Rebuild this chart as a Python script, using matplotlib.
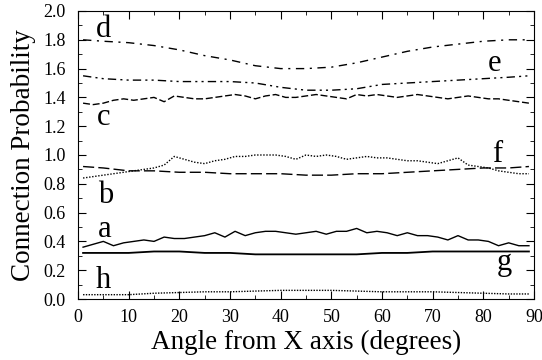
import matplotlib
matplotlib.use("Agg")
import matplotlib.pyplot as plt
from matplotlib.ticker import MultipleLocator

plt.rcParams['font.family'] = ['Liberation Serif', 'DejaVu Serif']

# angle grids (degrees)
x_fine = list(range(1, 90, 2))
x_coarse = [1, 5, 10, 15, 20, 25, 30, 35, 40, 45, 50, 55, 60, 65, 70, 75, 80, 85, 89]

# curves
d_vals = [1.80, 1.79, 1.78, 1.76, 1.73, 1.69, 1.66, 1.62, 1.60, 1.60,
          1.61, 1.64, 1.68, 1.72, 1.75, 1.77, 1.79, 1.80, 1.80]
e_vals = [1.55, 1.53, 1.52, 1.52, 1.51, 1.51, 1.51, 1.50, 1.47, 1.45,
          1.45, 1.46, 1.49, 1.50, 1.51, 1.52, 1.53, 1.54, 1.55]
c_vals = [1.36, 1.35, 1.36, 1.38, 1.39, 1.38, 1.39, 1.40, 1.37, 1.41,
          1.40, 1.39, 1.39, 1.40, 1.41, 1.42, 1.41, 1.39, 1.41, 1.42,
          1.40, 1.40, 1.41, 1.42, 1.41, 1.40, 1.39, 1.42, 1.41, 1.42,
          1.41, 1.40, 1.41, 1.42, 1.41, 1.40, 1.39, 1.40, 1.41, 1.40,
          1.39, 1.39, 1.38, 1.37, 1.36]
f_vals = [0.84, 0.85, 0.86, 0.87, 0.88, 0.89, 0.90, 0.91, 0.93, 0.99,
          0.97, 0.95, 0.94, 0.96, 0.97, 0.99, 0.99, 1.00, 1.00, 1.00,
          0.99, 0.97, 1.00, 0.99, 1.00, 0.99, 0.97, 0.98, 0.99, 0.98,
          0.98, 0.97, 0.96, 0.96, 0.95, 0.94, 0.96, 0.98, 0.93, 0.92,
          0.91, 0.89, 0.88, 0.87, 0.87]
b_vals = [0.92, 0.91, 0.89, 0.89, 0.88, 0.88, 0.87, 0.87, 0.87, 0.86,
          0.86, 0.87, 0.87, 0.88, 0.89, 0.90, 0.91, 0.91, 0.92]
a_vals = [0.36, 0.38, 0.40, 0.37, 0.39, 0.40, 0.41, 0.40, 0.43, 0.42,
          0.42, 0.43, 0.44, 0.46, 0.43, 0.47, 0.44, 0.46, 0.47, 0.47,
          0.46, 0.45, 0.46, 0.47, 0.45, 0.47, 0.47, 0.49, 0.46, 0.47,
          0.46, 0.44, 0.46, 0.44, 0.44, 0.43, 0.41, 0.44, 0.41, 0.41,
          0.40, 0.37, 0.39, 0.37, 0.37]
g_vals = [0.32, 0.32, 0.32, 0.33, 0.33, 0.32, 0.32, 0.31, 0.31, 0.31,
          0.31, 0.31, 0.32, 0.32, 0.33, 0.33, 0.33, 0.33, 0.33]
h_vals = [0.03, 0.03, 0.03, 0.04, 0.045, 0.05, 0.05, 0.055, 0.06, 0.06,
          0.06, 0.055, 0.05, 0.05, 0.05, 0.045, 0.04, 0.035, 0.035]

# curve letters: (text, x, y)
labels = [("d", 3.5, 1.82), ("e", 80.9, 1.58), ("c", 3.7, 1.21),
          ("f", 81.8, 0.95), ("b", 3.9, 0.67), ("a", 3.9, 0.43),
          ("g", 82.6, 0.20), ("h", 3.5, 0.076)]

fig = plt.figure(figsize=(5.42, 3.6), dpi=100)
ax = fig.add_axes([78 / 542, 61 / 360, 456 / 542, 288 / 360])

k = "black"
ax.plot(x_coarse, d_vals, color=k, lw=1.0, linestyle=(0, (6, 4, 1.5, 4)))
ax.plot(x_coarse, e_vals, color=k, lw=1.0, linestyle=(0, (6, 3, 1.5, 3, 1.5, 3)))
ax.plot(x_fine, c_vals, color=k, lw=1.0, linestyle=(0, (5, 2)))
ax.plot(x_fine, f_vals, color=k, lw=1.0, linestyle=(0, (1, 1.2)))
ax.plot(x_coarse, b_vals, color=k, lw=1.0, linestyle=(0, (8, 3)))
ax.plot(x_fine, a_vals, color=k, lw=1.0)
ax.plot(x_coarse, g_vals, color=k, lw=1.3)
ax.plot(x_coarse, h_vals, color=k, lw=1.0, linestyle=(0, (1, 1)))

for txt, lx, ly in labels:
    ax.text(lx, ly, txt, fontsize=22, ha="left", va="baseline")

ax.set_xlim(0, 90)
ax.set_ylim(0, 2.0)
ax.xaxis.set_major_locator(MultipleLocator(10))
ax.xaxis.set_minor_locator(MultipleLocator(5))
ax.yaxis.set_major_locator(MultipleLocator(0.2))
ax.yaxis.set_minor_locator(MultipleLocator(0.1))
ax.yaxis.set_major_formatter(plt.FormatStrFormatter("%.1f"))
ax.tick_params(which="both", direction="in", top=True, right=True, labelsize=13)
ax.tick_params(which="major", length=6)
ax.tick_params(which="minor", length=3)
ax.tick_params(axis="y", which="major", pad=9)
ax.tick_params(axis="x", which="major", pad=7)

ax.set_xlabel("Angle from X axis (degrees)", fontsize=19.5, labelpad=3)
ax.set_ylabel("Connection Probability", fontsize=19.5, labelpad=5)

fig.savefig("out.png", dpi=100)
